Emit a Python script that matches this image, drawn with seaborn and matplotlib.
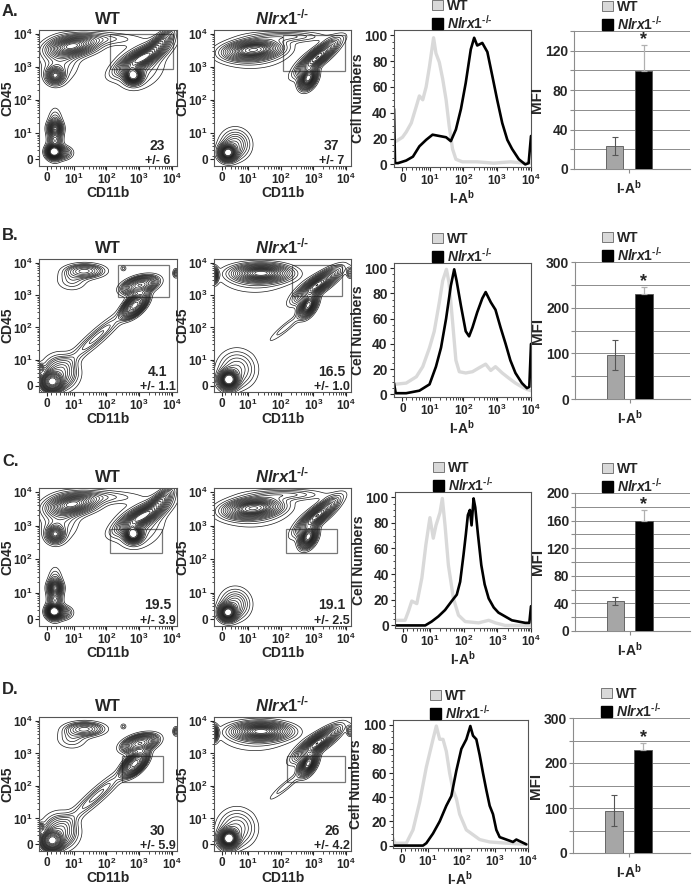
import numpy as np
import pandas as pd
import seaborn as sns
import matplotlib.pyplot as plt
from matplotlib.patches import Rectangle, Patch
from matplotlib.ticker import MultipleLocator, FixedLocator

# ---- contour populations (x, y, spread along, spread across, angle, peak) in axis units
# axis units: 0 -> 0, 10^1 -> 0.8, 10^2 -> 1.8, 10^3 -> 2.8, 10^4 -> 3.8
pops_ac_wt = [(0.79, 3.44, 0.45, 0.18, 8, 0.9), (0.24, 2.54, 0.16, 0.15, 0, 0.7),
              (0.40, 3.00, 0.35, 0.40, 0, 0.2), (1.80, 3.65, 0.60, 0.12, 0, 0.15),
              (2.90, 3.08, 0.50, 0.15, 28, 0.9), (3.50, 3.60, 0.30, 0.12, 40, 0.45),
              (2.62, 2.54, 0.15, 0.14, 0, 1.2), (2.80, 2.80, 0.50, 0.40, 30, 0.2),
              (0.19, 0.23, 0.13, 0.12, 0, 1.2), (0.24, 0.75, 0.38, 0.13, 90, 0.5),
              (0.24, 0.95, 0.13, 0.12, 0, 0.5), (0.45, 0.20, 0.18, 0.12, 0, 0.4)]
pops_ac_ko = [(0.96, 3.32, 0.48, 0.16, 5, 1.1), (0.90, 3.20, 0.70, 0.30, 0, 0.15),
              (2.00, 3.72, 0.70, 0.10, 0, 0.2), (2.92, 3.10, 0.45, 0.13, 38, 1.0),
              (2.64, 2.46, 0.20, 0.13, 60, 1.3), (0.17, 0.20, 0.15, 0.14, 0, 1.3),
              (0.40, 0.45, 0.28, 0.28, 0, 0.35)]
pops_bd_wt = [(1.15, 3.55, 0.35, 0.13, 0, 0.3), (0.75, 3.25, 0.30, 0.20, 0, 0.1),
              (2.82, 3.11, 0.30, 0.14, 15, 0.7), (2.67, 2.49, 0.25, 0.13, 45, 1.2),
              (1.50, 1.50, 0.75, 0.14, 42, 0.15), (0.15, 0.12, 0.16, 0.15, 0, 1.4),
              (0.40, 0.40, 0.32, 0.32, 0, 0.3), (2.32, 3.63, 0.06, 0.06, 0, 0.08),
              (3.92, 3.48, 0.06, 0.09, 0, 0.15), (-0.20, 0.50, 0.06, 0.10, 0, 0.2)]
pops_bd_ko = [(1.20, 3.48, 0.48, 0.15, 0, 1.1), (1.00, 3.30, 0.70, 0.30, 0, 0.12),
              (-0.25, 3.42, 0.07, 0.14, 0, 0.7), (2.92, 3.12, 0.45, 0.13, 35, 1.1),
              (2.64, 2.49, 0.22, 0.12, 60, 1.3), (1.95, 1.80, 0.45, 0.08, 40, 0.12),
              (0.20, 0.18, 0.16, 0.16, 0, 1.5), (0.45, 0.50, 0.35, 0.35, 0, 0.3),
              (3.92, 3.50, 0.06, 0.10, 0, 0.25)]

# gates (x0, x1, y0, y1) per row for WT and KO
gates_wt = [(1.91, 3.83, 2.74, 3.80), (2.14, 3.70, 2.74, 3.72), (1.91, 3.49, 1.99, 2.70), (2.28, 3.51, 1.92, 2.72)]
gates_ko = [(1.85, 3.77, 2.69, 3.77), (2.13, 3.68, 2.76, 3.72), (1.95, 3.52, 1.98, 2.71), (2.00, 3.77, 1.92, 2.72)]
pct_wt = ["23", "4.1", "19.5", "30"]
sd_wt = ["+/- 6", "+/- 1.1", "+/- 3.9", "+/- 5.9"]
pct_ko = ["37", "16.5", "19.1", "26"]
sd_ko = ["+/- 7", "+/- 1.0", "+/- 2.5", "+/- 4.2"]

# ---- histograms (I-Ab, same axis units; y = cell numbers)
hA_wt_x = [-0.25, -0.18, 0.0, 0.11, 0.26, 0.41, 0.50, 0.60, 0.70, 0.80, 0.92, 0.99, 1.09, 1.19, 1.29, 1.38, 1.48, 1.58, 1.77, 2.2, 2.7, 3.2, 3.6, 3.8]
hA_wt_y = [17, 18, 21, 25, 32, 45, 53, 50, 60, 76, 98, 86, 79, 66, 50, 30, 12, 4, 2, 2, 1, 2, 1, 1]
hA_ko_x = [-0.25, -0.22, -0.13, 0.11, 0.31, 0.50, 0.70, 0.89, 1.09, 1.29, 1.43, 1.58, 1.73, 1.87, 2.02, 2.12, 2.21, 2.36, 2.51, 2.66, 2.80, 2.95, 3.10, 3.24, 3.44, 3.63, 3.73, 3.80]
hA_ko_y = [43, 1, 1, 3, 6, 14, 19, 23, 22, 21, 18, 27, 43, 63, 89, 98, 92, 94, 87, 68, 50, 32, 19, 12, 4, 0, 1, 22]
hB_wt_x = [-0.25, 0.11, 0.41, 0.60, 0.80, 0.94, 1.09, 1.19, 1.30, 1.38, 1.48, 1.58, 1.68, 1.87, 2.07, 2.26, 2.46, 2.61, 2.75, 2.95, 3.14, 3.34, 3.53, 3.68, 3.80]
hB_wt_y = [8, 9, 14, 22, 37, 50, 73, 90, 99, 88, 58, 27, 18, 17, 18, 21, 24, 19, 22, 17, 13, 9, 6, 4, 3]
hB_ko_x = [-0.25, -0.20, 0.11, 0.50, 0.80, 0.99, 1.14, 1.29, 1.43, 1.53, 1.60, 1.73, 1.87, 1.97, 2.07, 2.21, 2.36, 2.46, 2.61, 2.75, 2.90, 3.05, 3.19, 3.34, 3.53, 3.68, 3.75, 3.80]
hB_ko_y = [9, 1, 1, 3, 8, 22, 37, 60, 86, 99, 90, 70, 50, 46, 53, 65, 76, 81, 73, 67, 53, 40, 27, 17, 9, 5, 6, 40]
hC_wt_x = [-0.25, 0.05, 0.15, 0.25, 0.40, 0.55, 0.67, 0.79, 0.89, 0.97, 1.09, 1.16, 1.24, 1.34, 1.49, 1.64, 1.84, 2.24, 2.54, 2.74, 3.03, 3.80]
hC_wt_y = [4, 4, 11, 19, 17, 37, 63, 84, 68, 78, 88, 99, 78, 47, 21, 8, 3, 2, 4, 2, 0, 0]
hC_ko_x = [-0.25, 0.65, 0.84, 1.04, 1.24, 1.44, 1.59, 1.69, 1.79, 1.86, 1.92, 1.98, 2.03, 2.09, 2.14, 2.22, 2.32, 2.42, 2.54, 2.69, 2.83, 3.03, 3.23, 3.43, 3.63, 3.75, 3.80]
hC_ko_y = [0, 0, 3, 7, 12, 19, 24, 34, 55, 71, 86, 90, 78, 99, 92, 71, 47, 32, 21, 14, 10, 7, 4, 3, 2, 2, 15]
hD_wt_x = [-0.25, -0.2, 0.15, 0.35, 0.55, 0.75, 0.95, 1.05, 1.15, 1.25, 1.35, 1.45, 1.55, 1.65, 1.75, 1.95, 2.15, 2.35, 2.65, 3.15, 3.75]
hD_wt_y = [6, 2, 2, 13, 36, 65, 88, 99, 88, 88, 78, 60, 46, 39, 26, 13, 9, 5, 3, 2, 1]
hD_ko_x = [-0.25, 0.65, 0.75, 0.95, 1.15, 1.35, 1.50, 1.65, 1.80, 1.95, 2.07, 2.15, 2.25, 2.35, 2.45, 2.55, 2.65, 2.75, 2.85, 2.95, 3.15, 3.35, 3.45, 3.60, 3.75]
hD_ko_y = [0, 0, 2, 10, 20, 33, 41, 62, 80, 88, 99, 91, 88, 75, 60, 46, 33, 26, 13, 7, 5, 3, 5, 3, 1]

# ---- MFI bars
bar_wt = [23, 96, 43, 94]
bar_wt_err = [9, 33, 6, 34]
bar_ko = [99, 229, 159, 228]
bar_ko_err = [27, 17, 17, 17]
bar_top = [140, 300, 200, 300]
bar_grid = [20, 50, 20, 50]
bar_lab = [40, 100, 40, 100]

sns.set_style("ticks")
plt.rcParams['font.family'] = ['Liberation Sans', 'DejaVu Sans']
plt.rcParams['font.weight'] = 'bold'
plt.rcParams['axes.labelweight'] = 'bold'
plt.rcParams['mathtext.fontset'] = 'custom'
plt.rcParams['mathtext.rm'] = 'Liberation Sans:bold'
plt.rcParams['mathtext.it'] = 'Liberation Sans:italic:bold'
plt.rcParams['mathtext.bf'] = 'Liberation Sans:bold'

W, H = 693, 886
fig = plt.figure(figsize=(W / 100, H / 100), dpi=100)


def box(x0, y0, x1, y1):
    return fig.add_axes([x0 / W, 1 - y1 / H, (x1 - x0) / W, (y1 - y0) / H])


KO_LABEL = '$\\mathit{Nlrx1}^{\\mathit{\u2010/\u2010}}$'
major = [0, 0.8, 1.8, 2.8, 3.8]
major_lab = ['0', '$10^{1}$', '$10^{2}$', '$10^{3}$', '$10^{4}$']
minor = [0.8 + d + np.log10(k) for d in range(-1, 3) for k in range(2, 10)]

g = np.linspace(-0.4, 4.05, 300)
GX, GY = np.meshgrid(g, g)


def density(pops):
    z = np.zeros_like(GX)
    for cx, cy, sa, sp, ang, pk in pops:
        t = np.deg2rad(ang)
        dx, dy = GX - cx, GY - cy
        a = dx * np.cos(t) + dy * np.sin(t)
        b = -dx * np.sin(t) + dy * np.cos(t)
        z += pk * np.exp(-0.5 * ((a / sa) ** 2 + (b / sp) ** 2))
    return z


def prob_levels(z, ps):
    # density thresholds enclosing a given share of the cells (probability contours)
    zs = np.sort(z.ravel())[::-1]
    cm = np.cumsum(zs)
    cm /= cm[-1]
    return np.unique([zs[np.searchsorted(cm, p)] for p in ps])


def flow_axis(ax):
    ax.set_xticks(major)
    ax.set_xticklabels(major_lab)
    ax.xaxis.set_minor_locator(FixedLocator(minor))
    ax.tick_params(which='major', length=3, width=0.8, labelsize=8.5, pad=1.5)
    ax.tick_params(which='minor', length=1.8, width=0.6)
    for s in ax.spines.values():
        s.set_color('#555555')
        s.set_linewidth(0.8)


def draw_contour(ax, pops, gate, pct, sd, title):
    z = density(pops)
    lv = prob_levels(z, np.arange(0.05, 0.995, 0.05))
    ax.contour(GX, GY, z, levels=lv, colors='#1a1a1a', linewidths=0.5)
    ax.add_patch(Rectangle((gate[0], gate[2]), gate[1] - gate[0], gate[3] - gate[2],
                           fill=False, ec='#777777', lw=0.9))
    ax.set_xlim(-0.25, 3.95)
    ax.set_ylim(-0.2, 3.92)
    flow_axis(ax)
    ax.set_yticks(major)
    ax.set_yticklabels(major_lab)
    ax.yaxis.set_minor_locator(FixedLocator(minor))
    ax.set_xlabel('CD11b', fontsize=10, labelpad=-1)
    ax.set_ylabel('CD45', fontsize=10, labelpad=-1)
    ax.set_title(title, fontsize=12, fontweight='bold', pad=4)
    ax.text(0.86, 0.15, pct, transform=ax.transAxes, ha='center', va='center', fontsize=10)
    ax.text(0.86, 0.035, sd, transform=ax.transAxes, ha='center', va='center', fontsize=9)


def legend(ax):
    hs = [Patch(fc='#d9d9d9', ec='#666666', lw=0.6, label='WT'),
          Patch(fc='black', ec='black', label=KO_LABEL)]
    ax.legend(handles=hs, loc='lower center', bbox_to_anchor=(0.5, 0.99), frameon=False,
              handlelength=0.8, handleheight=0.8, handletextpad=0.3, labelspacing=0.05,
              borderpad=0, borderaxespad=0, fontsize=10)


rows_y = [(30, 166), (259, 392), (488, 626), (717, 851)]
hist_box = [(394, 30, 531, 167), (394, 263, 531, 397), (395, 492, 531, 628), (393, 720, 528, 848)]
bar_box = [(574, 31, 690, 169), (575, 262, 690, 399), (575, 493, 690, 631), (573, 718, 690, 853)]
letters_y = [12, 235, 462, 690]
hists = [(hA_wt_x, hA_wt_y, hA_ko_x, hA_ko_y), (hB_wt_x, hB_wt_y, hB_ko_x, hB_ko_y),
         (hC_wt_x, hC_wt_y, hC_ko_x, hC_ko_y), (hD_wt_x, hD_wt_y, hD_ko_x, hD_ko_y)]
pops_wt = [pops_ac_wt, pops_bd_wt, pops_ac_wt, pops_bd_wt]
pops_ko = [pops_ac_ko, pops_bd_ko, pops_ac_ko, pops_bd_ko]

for i, letter in enumerate('ABCD'):
    y0, y1 = rows_y[i]
    fig.text(2 / W, 1 - letters_y[i] / H, letter + '.', fontsize=12, fontweight='bold', va='center')

    ax = box(39, y0, 177, y1)
    draw_contour(ax, pops_wt[i], gates_wt[i], pct_wt[i], sd_wt[i], 'WT')
    ax = box(214, y0, 351, y1)
    draw_contour(ax, pops_ko[i], gates_ko[i], pct_ko[i], sd_ko[i], KO_LABEL)

    # histogram
    ax = box(*hist_box[i])
    wx, wy, kx, ky = hists[i]
    sns.lineplot(x=wx, y=wy, ax=ax, color='#d9d9d9', lw=2.4)
    sns.lineplot(x=kx, y=ky, ax=ax, color='black', lw=1.9)
    ax.set_xlim(-0.25, 3.8)
    ax.set_ylim(-2, 104)
    flow_axis(ax)
    ax.set_yticks([0, 20, 40, 60, 80, 100])
    ax.yaxis.set_minor_locator(MultipleLocator(5))
    ax.tick_params(axis='y', labelsize=10)
    ax.set_xlabel(r'I-A$^{\mathrm{b}}$', fontsize=10, labelpad=0)
    ax.set_ylabel('Cell Numbers', fontsize=10, labelpad=0)
    legend(ax)

    # MFI bar chart
    ax = box(*bar_box[i])
    df = pd.DataFrame({'marker': [r'I-A$^{\mathrm{b}}$'] * 2, 'geno': ['WT', 'KO'],
                       'mfi': [bar_wt[i], bar_ko[i]]})
    sns.barplot(data=df, x='marker', y='mfi', hue='geno', palette=['#a6a6a6', 'black'],
                width=1.0, gap=0.4, edgecolor='#555555', linewidth=0.6, legend=False,
                ax=ax, zorder=3)
    ax.set_xlim(-0.95, 1.05)
    ax.set_ylim(0, bar_top[i])
    ticks = list(range(0, bar_top[i] + 1, bar_grid[i]))
    ax.set_yticks(ticks)
    ax.set_yticklabels([str(t) if t % bar_lab[i] == 0 else '' for t in ticks])
    ax.yaxis.grid(True, color='#8c8c8c', lw=0.7)
    ax.set_axisbelow(True)
    wpat, kpat = ax.patches[0], ax.patches[1]
    xw = wpat.get_x() + wpat.get_width() / 2
    xk = kpat.get_x() + kpat.get_width() / 2
    ax.errorbar(xw, bar_wt[i], yerr=bar_wt_err[i], fmt='none', ecolor='#555555',
                elinewidth=0.8, capsize=2.5, capthick=0.8, zorder=4)
    ax.errorbar(xk, bar_ko[i], yerr=[[0], [bar_ko_err[i]]], fmt='none', ecolor='#b0b0b0',
                elinewidth=0.9, capsize=2.5, capthick=0.9, zorder=4)
    ax.text(xk, bar_ko[i] + bar_ko_err[i] + 0.035 * bar_top[i], '*', ha='center', va='center',
            fontsize=13, fontweight='bold')
    sns.despine(ax=ax, top=True, right=True)
    for s in ('left', 'bottom'):
        ax.spines[s].set_color('#8c8c8c')
        ax.spines[s].set_linewidth(0.8)
    ax.tick_params(axis='y', length=3, color='#8c8c8c', labelsize=10, pad=1)
    ax.tick_params(axis='x', length=3, color='#8c8c8c', labelsize=10, pad=4)
    ax.set_xlabel('')
    ax.set_ylabel('MFI', fontsize=11, labelpad=1)
    legend(ax)

fig.savefig('out.png', dpi=100)
